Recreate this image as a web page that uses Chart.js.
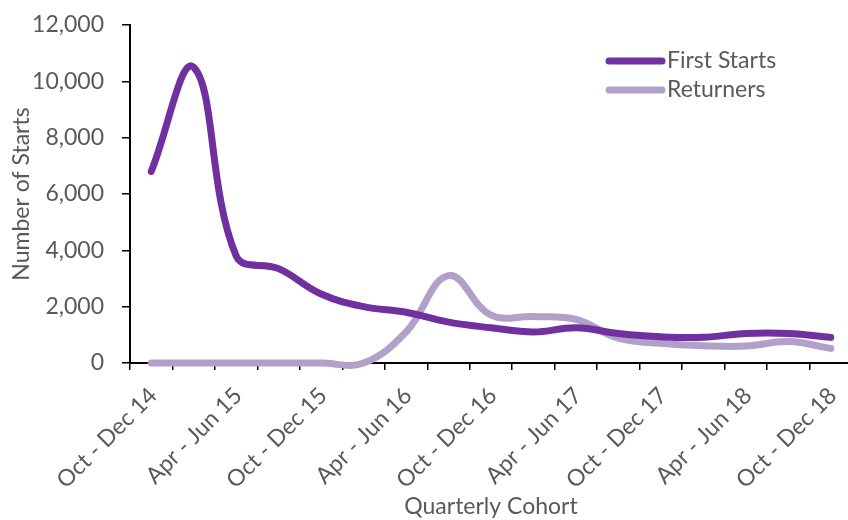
<!DOCTYPE html>
<html>
<head>
<meta charset="utf-8">
<script src="https://cdn.jsdelivr.net/npm/chart.js@4.4.1/dist/chart.umd.min.js"></script>
<style>
  html, body { margin: 0; padding: 0; background: #fff; overflow: hidden; }
  #wrap { width: 852px; height: 520px; }
</style>
</head>
<body>
<div id="wrap"><canvas id="startsChart" width="852" height="520"></canvas></div>
<script>
/* ── data ── */
const quarters = [
  "Oct - Dec 14", "Jan - Mar 15", "Apr - Jun 15", "Jul - Sep 15",
  "Oct - Dec 15", "Jan - Mar 16", "Apr - Jun 16", "Jul - Sep 16",
  "Oct - Dec 16", "Jan - Mar 17", "Apr - Jun 17", "Jul - Sep 17",
  "Oct - Dec 17", "Jan - Mar 18", "Apr - Jun 18", "Jul - Sep 18",
  "Oct - Dec 18"
];
const firstStarts = [6800, 10500, 3800, 3350, 2450, 2000, 1800, 1450, 1250, 1100, 1250, 1050, 930, 910, 1050, 1050, 910];
const returners   = [0, 0, 0, 0, 0, 0, 1100, 3100, 1700, 1650, 1550, 880, 700, 615, 600, 760, 520];
const yTicks = [0, 2000, 4000, 6000, 8000, 10000, 12000];

const FONT = "Lato, 'Open Sans', sans-serif";
const GREY = "#595959";

// legend drawn inside the plot, top right
const insideLegend = {
  id: "insideLegend",
  afterDraw(chart) {
    const c = chart.ctx;
    c.save();
    c.font = "23px " + FONT;
    c.textBaseline = "middle";
    chart.data.datasets.forEach((ds, i) => {
      const y = 61 + i * 29;
      c.strokeStyle = ds.borderColor;
      c.lineWidth = 7;
      c.lineCap = "round";
      c.beginPath();
      c.moveTo(609, y);
      c.lineTo(662, y);
      c.stroke();
      c.fillStyle = GREY;
      c.fillText(ds.label, 667, y);
    });
    c.restore();
  }
};

new Chart(document.getElementById("startsChart"), {
  type: "line",
  data: {
    labels: quarters,
    datasets: [
      {
        label: "First Starts",
        data: firstStarts,
        borderColor: "#7030A0",
        borderWidth: 7,
        tension: 0.4,
        pointRadius: 0,
        borderCapStyle: "round",
        clip: 8
      },
      {
        label: "Returners",
        data: returners,
        borderColor: "#B1A0C7",
        borderWidth: 7,
        tension: 0.4,
        pointRadius: 0,
        borderCapStyle: "round",
        clip: 8
      }
    ]
  },
  options: {
    responsive: false,
    animation: false,
    layout: { padding: { top: 25, right: 0, left: 0, bottom: 0 } },
    elements: { line: { capBezierPoints: false } },
    plugins: {
      legend: { display: false },
      tooltip: { enabled: false }
    },
    scales: {
      x: {
        offset: true,
        grid: { offset: true, drawOnChartArea: false, color: "#000", tickLength: 7, lineWidth: 1.5 },
        border: { color: "#000", width: 2 },
        ticks: {
          autoSkip: false,
          minRotation: 45,
          maxRotation: 45,
          padding: 12,
          labelOffset: 2,
          color: GREY,
          font: { family: FONT, size: 23 },
          callback: (v, i) => (i % 2 === 0 ? quarters[i] : "")
        },
        title: {
          display: true,
          text: "Quarterly Cohort",
          color: GREY,
          font: { family: FONT, size: 23 },
          padding: { top: 0, bottom: 0 }
        },
        afterFit: s => { s.height = 157; s.paddingLeft = 0; s.paddingRight = 0; }
      },
      y: {
        min: 0,
        max: 12000,
        afterBuildTicks: s => { s.ticks = yTicks.map(v => ({ value: v })); },
        grid: { drawOnChartArea: false, color: "#000", tickLength: 8, lineWidth: 1.5 },
        border: { color: "#000", width: 2 },
        ticks: {
          padding: 18,
          color: GREY,
          font: { family: FONT, size: 23 },
          callback: v => v.toLocaleString("en-US")
        },
        title: {
          display: true,
          text: "Number of Starts",
          color: GREY,
          font: { family: FONT, size: 23 },
          padding: { top: 8, bottom: 0 }
        },
        afterFit: s => { s.width = 130; s.paddingTop = 0; s.paddingBottom = 0; }
      }
    }
  },
  plugins: [insideLegend]
});
</script>
</body>
</html>
